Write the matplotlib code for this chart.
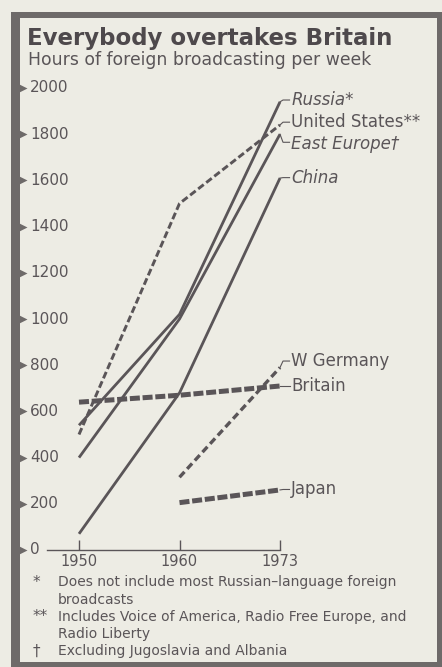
import numpy as np
import matplotlib.pyplot as plt
from matplotlib.patches import Rectangle

plt.rcParams['font.family'] = ['DejaVu Sans']

# data (hours per week)
years = ['1950', '1960', '1973']
russia = [540, 1020, 1940]
united_states = [500, 1500, 1840]
east_europe = [400, 1000, 1800]
china = [70, 680, 1610]
w_germany = [np.nan, 315, 790]
britain = [640, 670, 710]
japan = [np.nan, 205, 260]
y_ticks = [0, 200, 400, 600, 800, 1000, 1200, 1400, 1600, 1800, 2000]

BG = '#edece4'
INK = '#5a5558'
FRAME = '#6e6a69'

W, H = 442, 667
fig = plt.figure(figsize=(W / 100, H / 100), dpi=100, facecolor=BG)

# frame around the chart (pixel coords -> figure fraction)
def px_rect(x0, y0, x1, y1):
    return Rectangle((x0 / W, 1 - y1 / H), (x1 - x0) / W, (y1 - y0) / H,
                     transform=fig.transFigure, facecolor=FRAME,
                     edgecolor='none', zorder=0)

fig.patches.extend([
    px_rect(11, 12, 442, 18),   # top
    px_rect(437, 12, 442, 667), # right
    px_rect(11, 662, 442, 667), # bottom
    px_rect(11, 12, 20, 667),   # left (thick)
])

ax = fig.add_axes([47 / W, (H - 550) / H, 233 / W, 462 / H])
ax.set_facecolor('none')
x = np.arange(len(years))
ax.set_xlim(-32 / 100.5, 2)
ax.set_ylim(0, 2000)

solid = dict(color=INK, lw=2.0, solid_capstyle='butt', clip_on=False)
ax.plot(x, russia, **solid)
ax.plot(x, east_europe, **solid)
ax.plot(x, china, **solid)
ax.plot(x, united_states, color=INK, lw=2.1, ls=(0, (2.4, 1.1)),
        dash_capstyle='butt', clip_on=False)
ax.plot(x, w_germany, color=INK, lw=2.4, ls=(0, (2.2, 1.2)),
        dash_capstyle='butt', clip_on=False)
ax.plot(x, britain, color=INK, lw=3.6, ls=(0, (2.0, 0.55)),
        dash_capstyle='butt', clip_on=False)
ax.plot(x, japan, color=INK, lw=3.6, ls=(0, (2.0, 0.55)),
        dash_capstyle='butt', clip_on=False)

# series labels with short leaders
labels = [
    ('Russia*', russia, 1948, 'italic', 1948),
    ('United States**', united_states, 1852, 'normal', 1852),
    ('East Europe\u2020', east_europe, 1758, 'italic', 1765),
    ('China', china, 1612, 'italic', 1612),
    ('W Germany', w_germany, 818, 'normal', 818),
    ('Britain', britain, 710, 'normal', 710),
    ('Japan', japan, 262, 'normal', 262),
]
for name, vals, ty, style, ly in labels:
    end = vals[-1]
    ax.plot([2.0, 2.03, 2.095], [end, ly, ly], color=INK, lw=0.8,
            clip_on=False)
    ax.text(2.11, ty, name, fontsize=12, style=style, color=INK,
            va='center', ha='left', clip_on=False)

# axes styling
for s in ['top', 'right', 'left']:
    ax.spines[s].set_visible(False)
ax.spines['bottom'].set_color(INK)
ax.spines['bottom'].set_linewidth(1.0)
ax.set_xticks(x)
ax.set_xticklabels(years, fontsize=10.5, color=INK)
ax.tick_params(axis='x', direction='in', length=7, width=1.0, color=INK, pad=3)
ax.set_yticks([])

ytf = ax.get_yaxis_transform()
for v in y_ticks:
    ax.text(-17 / 233, v, str(v), transform=ytf, fontsize=11, color=INK,
            va='center', ha='left', clip_on=False)
    ax.plot([-26 / 233], [v], transform=ytf, marker='>', ms=8, color=FRAME,
            mec='none', clip_on=False)
    ax.plot([-30 / 233], [v], transform=ytf, marker='o', ms=3, color='white',
            mec='none', clip_on=False)

# titles
fig.text(27 / W, 1 - 38 / H, 'Everybody overtakes Britain', fontsize=16.5,
         fontweight='bold', color='#4e494c', va='center', ha='left')
fig.text(28 / W, 1 - 60 / H, 'Hours of foreign broadcasting per week',
         fontsize=12.4, color=INK, va='center', ha='left')

# footnotes
notes = [
    ('*', 'Does not include most Russian\u2013language foreign', 582),
    ('', 'broadcasts', 600),
    ('**', 'Includes Voice of America, Radio Free Europe, and', 617),
    ('', 'Radio Liberty', 634),
    ('\u2020', 'Excluding Jugoslavia and Albania', 651),
]
for mark, txt, ypx in notes:
    if mark:
        fig.text(33 / W, 1 - ypx / H, mark, fontsize=11, color=INK,
                 va='center', ha='left')
    fig.text(58 / W, 1 - ypx / H, txt, fontsize=10, color=INK,
             va='center', ha='left')

fig.savefig('out.png', dpi=100, facecolor=BG)
